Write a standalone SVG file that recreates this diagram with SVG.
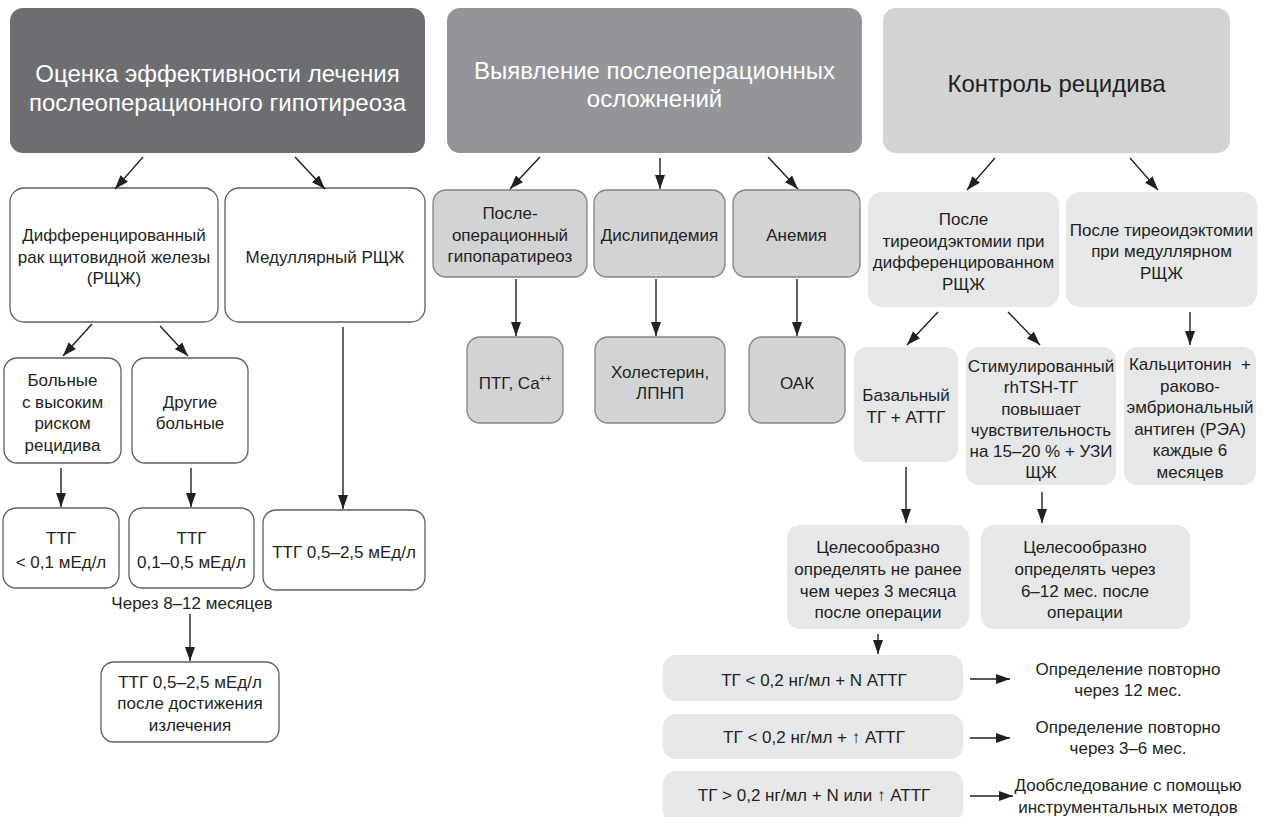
<svg xmlns="http://www.w3.org/2000/svg" width="1266" height="817" viewBox="0 0 1266 817">
<defs>
<style>
text{font-family:"Liberation Sans",Arial,sans-serif;font-size:17px;fill:#231f20;text-anchor:middle}
.h{font-size:24px}
.w{fill:#ffffff}
.wb{fill:#ffffff;stroke:#5d5e61;stroke-width:1.3}
.mb{fill:#d1d3d4;stroke:#808285;stroke-width:1.3}
.lb{fill:#e6e7e8;stroke:none}
.c line{stroke:#231f20;stroke-width:1.4;marker-end:url(#ah)}
</style>
<marker id="ah" markerUnits="userSpaceOnUse" markerWidth="14" markerHeight="10" viewBox="0 0 14 10" refX="14" refY="5" orient="auto">
<path d="M0,0 L14,5 L0,10 z" fill="#231f20"/>
</marker>
</defs>
<rect width="1266" height="817" fill="#ffffff"/>

<g id="h1"><rect x="10" y="8" width="415" height="145" rx="13" fill="#6d6e71"/>
<text class="h w" x="217.5" y="82">Оценка эффективности лечения</text>
<text class="h w" x="217.5" y="111">послеоперационного гипотиреоза</text></g>
<g id="h2"><rect x="447" y="8" width="415" height="145" rx="13" fill="#939598"/>
<text class="h w" x="654.5" y="79">Выявление послеоперационных</text>
<text class="h w" x="654.5" y="107">осложнений</text></g>
<g id="h3"><rect x="883" y="8" width="347" height="145" rx="13" fill="#d1d3d4"/>
<text class="h" x="1056.5" y="92">Контроль рецидива</text></g>

<g id="diff"><rect class="wb" x="10" y="188" width="208" height="134" rx="14"/>
<text x="114" y="241">Дифференцированный</text>
<text x="114" y="263">рак щитовидной железы</text>
<text x="114" y="284">(РЩЖ)</text></g>
<g id="med"><rect class="wb" x="225" y="188" width="200" height="134" rx="14"/>
<text x="325" y="263">Медуллярный РЩЖ</text></g>
<g id="high"><rect class="wb" x="4" y="358" width="117" height="105" rx="13"/>
<text x="62.5" y="386">Больные</text>
<text x="62.5" y="408">с высоким</text>
<text x="62.5" y="429">риском</text>
<text x="62.5" y="451">рецидива</text></g>
<g id="other"><rect class="wb" x="132" y="358" width="116" height="105" rx="13"/>
<text x="190" y="408">Другие</text>
<text x="190" y="429">больные</text></g>
<g id="ttg1"><rect class="wb" x="3" y="508" width="116" height="80" rx="13"/>
<text x="61" y="544">ТТГ</text>
<text x="61" y="568">&lt; 0,1 мЕд/л</text></g>
<g id="ttg2"><rect class="wb" x="129" y="508" width="125" height="80" rx="13"/>
<text x="191.5" y="544">ТТГ</text>
<text x="191.5" y="568">0,1–0,5 мЕд/л</text></g>
<g id="ttg3"><rect class="wb" x="263" y="510" width="162" height="80" rx="13"/>
<text x="344" y="558">ТТГ 0,5–2,5 мЕд/л</text></g>
<g id="label8"><text x="192" y="609">Через 8–12 месяцев</text></g>
<g id="ttg4"><rect class="wb" x="101" y="662" width="178" height="80" rx="13"/>
<text x="190" y="688">ТТГ 0,5–2,5 мЕд/л</text>
<text x="190" y="709">после достижения</text>
<text x="190" y="731">излечения</text></g>

<g id="hypo"><rect class="mb" x="433" y="190" width="154" height="87" rx="13"/>
<text x="510" y="219">После-</text>
<text x="510" y="241">операционный</text>
<text x="510" y="262">гипопаратиреоз</text></g>
<g id="dysl"><rect class="mb" x="594" y="190" width="131" height="87" rx="13"/>
<text x="659.5" y="241">Дислипидемия</text></g>
<g id="anem"><rect class="mb" x="733" y="190" width="127" height="87" rx="13"/>
<text x="796.5" y="241">Анемия</text></g>
<g id="ptg"><rect class="mb" x="467" y="337" width="96" height="86" rx="13"/>
<text x="515" y="389">ПТГ, Ca<tspan font-size="10" dy="-7">++</tspan></text></g>
<g id="chol"><rect class="mb" x="595" y="337" width="130" height="86" rx="13"/>
<text x="660" y="378">Холестерин,</text>
<text x="660" y="399">ЛПНП</text></g>
<g id="oak"><rect class="mb" x="749" y="337" width="96" height="86" rx="13"/>
<text x="797" y="389">ОАК</text></g>

<g id="afterdiff"><rect class="lb" x="868" y="192" width="191" height="115" rx="14"/>
<text x="963.5" y="225">После</text>
<text x="963.5" y="247">тиреоидэктомии при</text>
<text x="963.5" y="268">дифференцированном</text>
<text x="963.5" y="290">РЩЖ</text></g>
<g id="aftermed"><rect class="lb" x="1066" y="192" width="191" height="115" rx="14"/>
<text x="1161.5" y="236">После тиреоидэктомии</text>
<text x="1161.5" y="257">при медуллярном</text>
<text x="1161.5" y="279">РЩЖ</text></g>
<g id="basal"><rect class="lb" x="854" y="347" width="104" height="115" rx="13"/>
<text x="906" y="401">Базальный</text>
<text x="906" y="423">ТГ + АТТГ</text></g>
<g id="stim"><rect class="lb" x="966" y="347" width="150" height="138" rx="13"/>
<text x="1041" y="372">Стимулированный</text>
<text x="1041" y="393">rhTSH-ТГ</text>
<text x="1041" y="415">повышает</text>
<text x="1041" y="436">чувствительность</text>
<text x="1041" y="457">на 15–20 % + УЗИ</text>
<text x="1041" y="478">ЩЖ</text></g>
<g id="calc"><rect class="lb" x="1124" y="347" width="132" height="138" rx="13"/>
<text x="1190" y="370">Кальцитонин&#160; +</text>
<text x="1190" y="392">раково-</text>
<text x="1190" y="413">эмбриональный</text>
<text x="1190" y="435">антиген (РЭА)</text>
<text x="1190" y="456">каждые 6</text>
<text x="1190" y="478">месяцев</text></g>
<g id="c1"><rect class="lb" x="787" y="525" width="182" height="104" rx="13"/>
<text x="878" y="553">Целесообразно</text>
<text x="878" y="575">определять не ранее</text>
<text x="878" y="597">чем через 3 месяца</text>
<text x="878" y="618">после операции</text></g>
<g id="c2"><rect class="lb" x="981" y="525" width="209" height="104" rx="13"/>
<text x="1085" y="553">Целесообразно</text>
<text x="1085" y="575">определять через</text>
<text x="1085" y="597">6–12 мес. после</text>
<text x="1085" y="618">операции</text></g>
<g id="t1"><rect class="lb" x="663" y="655" width="300" height="46" rx="13"/>
<text x="814" y="686" font-size="16.5">ТГ &lt; 0,2 нг/мл + N АТТГ</text></g>
<g id="t2"><rect class="lb" x="663" y="714" width="300" height="45" rx="13"/>
<text x="814" y="743" font-size="16.5">ТГ &lt; 0,2 нг/мл + ↑ АТТГ</text></g>
<g id="t3"><rect class="lb" x="663" y="771" width="300" height="52" rx="13"/>
<text x="814" y="801" font-size="16.5">ТГ &gt; 0,2 нг/мл + N или ↑ АТТГ</text></g>
<g id="r1"><text x="1128" y="675">Определение повторно</text>
<text x="1128" y="696">через 12 мес.</text></g>
<g id="r2"><text x="1128" y="733">Определение повторно</text>
<text x="1128" y="754">через 3–6 мес.</text></g>
<g id="r3"><text x="1128" y="791">Дообследование с помощью</text>
<text x="1128" y="813">инструментальных методов</text></g>

<g id="connectors" class="c">
<line x1="143" y1="157" x2="115" y2="189"/>
<line x1="295" y1="157" x2="325" y2="189"/>
<line x1="92" y1="324" x2="63" y2="356"/>
<line x1="160" y1="326" x2="188" y2="356"/>
<line x1="343" y1="327" x2="343" y2="509"/>
<line x1="61" y1="468" x2="61" y2="507"/>
<line x1="191" y1="468" x2="191" y2="507"/>
<line x1="190" y1="614" x2="190" y2="661"/>
<line x1="540" y1="157" x2="510" y2="189"/>
<line x1="660" y1="158" x2="660" y2="189"/>
<line x1="768" y1="157" x2="798" y2="189"/>
<line x1="516" y1="279" x2="516" y2="336"/>
<line x1="656" y1="279" x2="656" y2="336"/>
<line x1="797" y1="279" x2="797" y2="336"/>
<line x1="995" y1="158" x2="967" y2="190"/>
<line x1="1130" y1="158" x2="1158" y2="190"/>
<line x1="938" y1="312" x2="907" y2="345"/>
<line x1="1008" y1="312" x2="1040" y2="345"/>
<line x1="1190" y1="312" x2="1190" y2="345"/>
<line x1="906" y1="467" x2="906" y2="523"/>
<line x1="1042" y1="492" x2="1042" y2="523"/>
<line x1="878" y1="634" x2="878" y2="654"/>
<line x1="970" y1="679" x2="1010" y2="679"/>
<line x1="970" y1="738" x2="1010" y2="738"/>
<line x1="970" y1="796" x2="1013" y2="796"/>
</g>
</svg>
